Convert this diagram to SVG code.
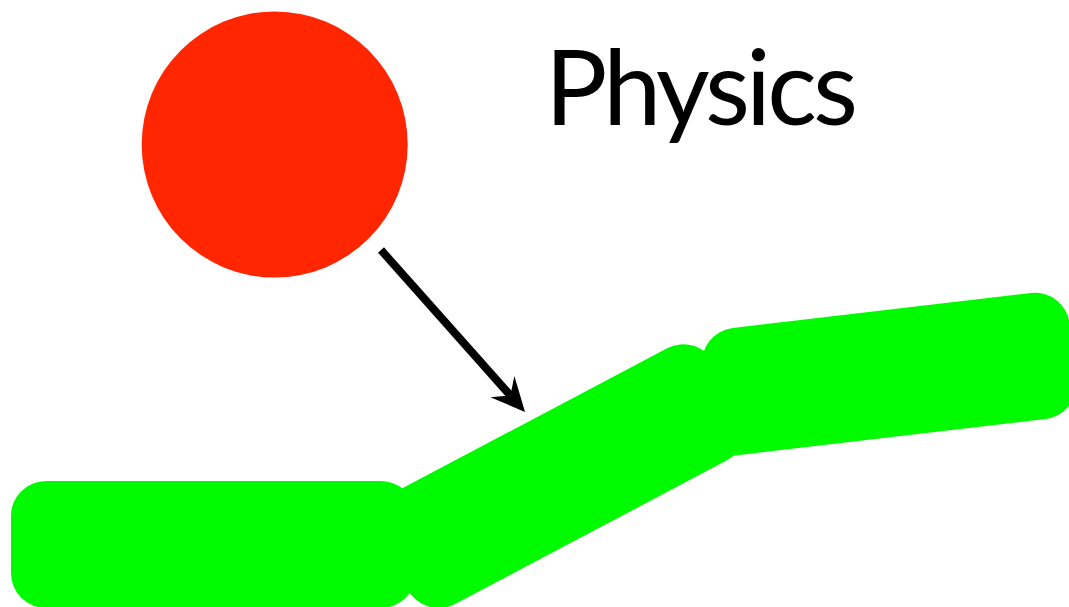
<svg xmlns="http://www.w3.org/2000/svg" width="1069" height="607" viewBox="0 0 1069 607">
  <style>
    .ground { fill: #00FA00; }
    .ball { fill: #FF2600; }
    .title { font-family: "Lato", "Open Sans", "Liberation Sans", sans-serif; font-size: 104px; fill: #000000; }
    .conn { stroke: #000000; stroke-width: 8; fill: none; stroke-linecap: butt; }
  </style>
  <defs>
    <marker id="ah" markerUnits="userSpaceOnUse" orient="auto" markerWidth="40" markerHeight="40" viewBox="-15 -20 40 40" refX="0" refY="0" overflow="visible">
      <path d="M22,0 L-12,-16 L0,0 L-12,16 z" fill="#000000"/>
    </marker>
  </defs>
  <rect width="1069" height="607" fill="#FFFFFF"/>
  <g id="ground">
    <g id="seg3" transform="translate(698,332) rotate(-6.7)">
      <path class="ground" d="M0,127 L0,35 A35,35 0 0 1 35,0 L335,0 A35,35 0 0 1 370,35 L370,92 A35,35 0 0 1 335,127 Z"/>
    </g>
    <g id="seg2" transform="translate(416,481) rotate(-27.85)">
      <rect class="ground" x="-58" y="0" width="377" height="127" rx="35" ry="35"/>
    </g>
    <g id="seg1">
      <rect class="ground" x="11" y="481" width="405" height="127" rx="35" ry="35"/>
    </g>
  </g>
  <g id="ball">
    <circle class="ball" cx="274.7" cy="144.5" r="133"/>
  </g>
  <g id="label">
    <text class="title" x="545" y="125" textLength="313" lengthAdjust="spacing">Physics</text>
  </g>
  <g id="connectors">
    <line class="conn" x1="381" y1="250" x2="510.4" y2="395.5" marker-end="url(#ah)"/>
  </g>
</svg>
